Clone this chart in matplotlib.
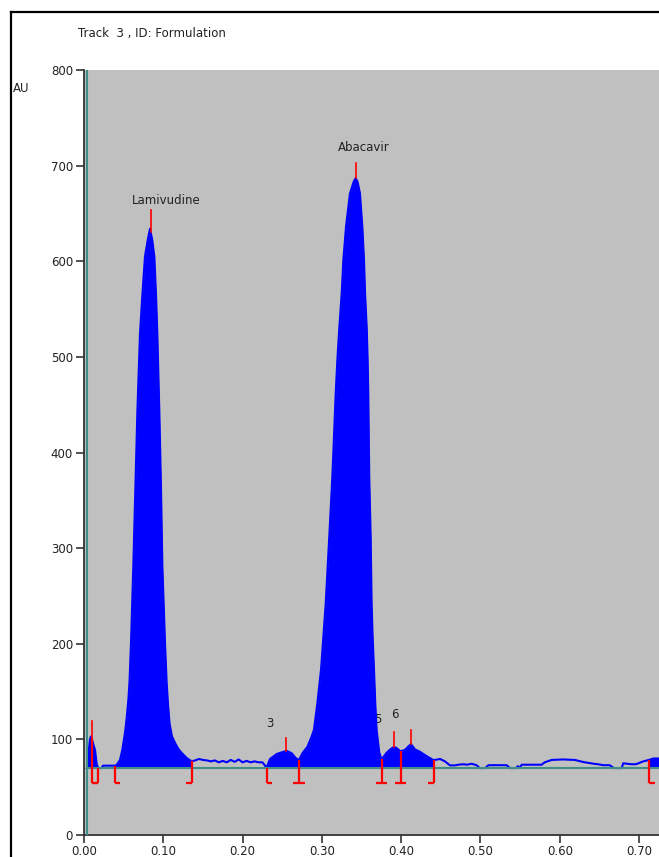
import numpy as np
import matplotlib
matplotlib.use("Agg")
import matplotlib.pyplot as plt
from matplotlib.lines import Line2D

plt.rcParams['font.family'] = ['DejaVu Sans']

# ---- data ----
track_title = "Track  3 , ID: Formulation"
y_unit = "AU"

trace_rf = [0.0035, 0.0042, 0.0060, 0.0075, 0.0088, 0.0100, 0.0120, 0.0139, 0.0160, 0.0180,
            0.0220, 0.0240, 0.0300, 0.0360, 0.0390, 0.0410, 0.0454, 0.0483, 0.0517, 0.0538,
            0.0560, 0.0575, 0.0593, 0.0622, 0.0647, 0.0673, 0.0706, 0.0736, 0.0769, 0.0803,
            0.0832, 0.0861, 0.0887, 0.0908, 0.0925, 0.0950, 0.0971, 0.0988, 0.1021, 0.1042,
            0.1060, 0.1080, 0.1110, 0.1150, 0.1190, 0.1230, 0.1295, 0.1358, 0.1400, 0.1450,
            0.1500, 0.1550, 0.1600, 0.1650, 0.1700, 0.1750, 0.1800, 0.1850, 0.1900, 0.1950,
            0.2000, 0.2050, 0.2100, 0.2150, 0.2200, 0.2250, 0.2303, 0.2346, 0.2430, 0.2513,
            0.2555, 0.2619, 0.2673, 0.2711, 0.2758, 0.2816, 0.2871, 0.2900, 0.2943, 0.2989,
            0.3018, 0.3048, 0.3093, 0.3132, 0.3157, 0.3174, 0.3195, 0.3220, 0.3250, 0.3270,
            0.3304, 0.3354, 0.3400, 0.3426, 0.3450, 0.3480, 0.3510, 0.3531, 0.3544, 0.3565,
            0.3577, 0.3585, 0.3590, 0.3597, 0.3615, 0.3627, 0.3640, 0.3657, 0.3673, 0.3690,
            0.3700, 0.3724, 0.3753, 0.3816, 0.3870, 0.3909, 0.3940, 0.3992, 0.4048, 0.4090,
            0.4124, 0.4174, 0.4237, 0.4320, 0.4413, 0.4426, 0.4490, 0.4552, 0.4615, 0.4678,
            0.4720, 0.4783, 0.4830, 0.4888, 0.4950, 0.4990, 0.5060, 0.5100, 0.5330, 0.5370,
            0.5450, 0.5470, 0.5490, 0.5520, 0.5770, 0.5810, 0.5897, 0.6040, 0.6190, 0.6297,
            0.6420, 0.6480, 0.6550, 0.6630, 0.6680, 0.6780, 0.6800, 0.6900, 0.6960, 0.7054,
            0.7125, 0.7180, 0.7250]
trace_au = [70.0, 72.0, 88.0, 100.0, 103.0, 100.0, 94.0, 89.0, 74.0, 70.0,
            70.0, 72.5, 72.5, 72.5, 72.5, 73.0, 78.5, 89.0, 107.0, 122.0,
            142.0, 162.0, 202.0, 282.0, 363.0, 443.0, 524.0, 565.0, 605.0, 622.0,
            634.0, 622.0, 605.0, 565.0, 524.0, 443.0, 363.0, 282.0, 202.0, 160.0,
            136.0, 116.0, 103.0, 96.0, 90.0, 86.0, 80.5, 77.0, 78.0, 79.5,
            78.5, 78.0, 77.0, 78.0, 76.0, 77.5, 76.0, 78.5, 76.5, 79.0,
            76.0, 77.5, 76.0, 77.0, 76.0, 76.0, 70.5, 79.5, 84.7, 87.0,
            88.0, 85.5, 80.2, 78.5, 86.0, 92.0, 103.0, 110.0, 138.0, 173.0,
            207.0, 242.0, 312.0, 375.0, 427.0, 462.0, 497.0, 531.0, 567.0, 601.0,
            636.0, 671.0, 683.0, 687.0, 683.0, 671.0, 636.0, 601.0, 567.0, 531.0,
            497.0, 462.0, 427.0, 375.0, 312.0, 242.0, 207.0, 173.0, 138.0, 110.0,
            103.0, 86.0, 79.0, 86.0, 90.0, 92.0, 91.0, 87.5, 89.0, 92.6,
            95.0, 89.5, 87.0, 82.5, 78.0, 78.5, 79.5, 77.0, 72.8, 72.8,
            73.5, 74.0, 73.5, 74.5, 73.0, 70.0, 70.0, 73.0, 73.0, 70.0,
            70.0, 72.0, 70.0, 73.5, 73.5, 76.0, 78.5, 79.0, 78.5, 76.3,
            74.6, 74.0, 73.0, 73.0, 70.0, 70.0, 75.0, 74.0, 74.0, 77.0,
            78.5, 80.0, 80.0]

baseline_au = 70.0

# integration windows (filled peaks)
window_start = [0.0035, 0.0390, 0.2303, 0.2711, 0.3753, 0.3992, 0.7125]
window_end = [0.0180, 0.1358, 0.2711, 0.3753, 0.3992, 0.4413, 0.7250]

# peak boundary markers: position and foot direction (L=right foot, R=left foot, B=both)
marker_rf = [0.0095, 0.0180, 0.0390, 0.1358, 0.2303, 0.2711, 0.3753, 0.3992, 0.4413, 0.7125]
marker_kind = ["L", "R", "L", "R", "L", "B", "B", "B", "R", "L"]
marker_bottom_au = 54.0

# peak maximum markers
apex_rf = [0.0095, 0.0840, 0.2547, 0.3426, 0.3909, 0.4124]
apex_top_au = [119.5, 654.0, 101.0, 703.0, 107.7, 110.0]

# peak labels
label_text = ["Lamivudine", "Abacavir", "3", "5", "6"]
label_rf = [0.1034, 0.3530, 0.2346, 0.3703, 0.3920]
label_au = [664.0, 719.0, 117.0, 121.0, 125.5]

x_ticks = [0.0, 0.1, 0.2, 0.3, 0.4, 0.5, 0.6, 0.7]
x_ticklabels = ["0.00", "0.10", "0.20", "0.30", "0.40", "0.50", "0.60", "0.70"]
y_ticks = [0, 100, 200, 300, 400, 500, 600, 700, 800]

# ---- figure ----
W, H = 659, 857
fig = plt.figure(figsize=(W / 100, H / 100), dpi=100)
fig.patch.set_facecolor("white")
ax = fig.add_axes([84 / W, (H - 835) / H, (W - 84) / W, (835 - 70) / H])
ax.set_facecolor("#c0c0c0")
ax.set_xlim(0, 0.7251)
ax.set_ylim(0, 800)

x = np.array(trace_rf)
y = np.array(trace_au)

for a, b in zip(window_start, window_end):
    m = (x >= a - 1e-9) & (x <= b + 1e-9)
    ax.fill_between(x[m], baseline_au, y[m], color="#0000ff", lw=0, zorder=3)

ax.plot(x, y, color="#0000ff", lw=1.5, zorder=3.5)

# baseline and start line
ax.axhline(baseline_au, xmin=0.0034 / 0.7251, color="#3f8f86", lw=1.5, zorder=4)
ax.axvline(0.0034, color="#3f8f86", lw=1.5, zorder=4)

foot = 0.0070
for rf, kind in zip(marker_rf, marker_kind):
    top = np.interp(rf, x, y)
    ax.plot([rf, rf], [marker_bottom_au, top], color="#ff0000", lw=1.6, zorder=5,
            solid_capstyle="butt")
    if kind in ("L", "B"):
        ax.plot([rf, rf + foot], [marker_bottom_au] * 2, color="#ff0000", lw=1.6, zorder=5,
                solid_capstyle="butt")
    if kind in ("R", "B"):
        ax.plot([rf - foot, rf], [marker_bottom_au] * 2, color="#ff0000", lw=1.6, zorder=5,
                solid_capstyle="butt")

for rf, top in zip(apex_rf, apex_top_au):
    ax.plot([rf, rf], [np.interp(rf, x, y), top], color="#ff0000", lw=1.2, zorder=5)

for t, rf, au in zip(label_text, label_rf, label_au):
    ax.text(rf, au, t, ha="center", va="center", fontsize=8.5, color="#222222", zorder=2)

for s in ["top", "right"]:
    ax.spines[s].set_visible(False)
for s in ["left", "bottom"]:
    ax.spines[s].set_color("#333333")
    ax.spines[s].set_linewidth(1.3)

ax.set_xticks(x_ticks)
ax.set_xticklabels(x_ticklabels)
ax.set_yticks(y_ticks)
ax.tick_params(axis="both", length=6, width=1.2, color="#333333", labelsize=8.5,
               labelcolor="#222222", pad=2)
ax.tick_params(axis="x", pad=1.2)

fig.text(78 / W, 1 - 33 / H, track_title, ha="left", va="center", fontsize=8.5, color="#222222")
fig.text(13 / W, 1 - 88 / H, y_unit, ha="left", va="center", fontsize=8.5, color="#222222")

# outer frame
fig.add_artist(Line2D([11 / W, 11 / W], [0, 1 - 12 / H], transform=fig.transFigure,
                      color="black", lw=1.6))
fig.add_artist(Line2D([11 / W, 1], [1 - 12 / H, 1 - 12 / H], transform=fig.transFigure,
                      color="black", lw=1.6))

fig.savefig("out.png", dpi=100)
